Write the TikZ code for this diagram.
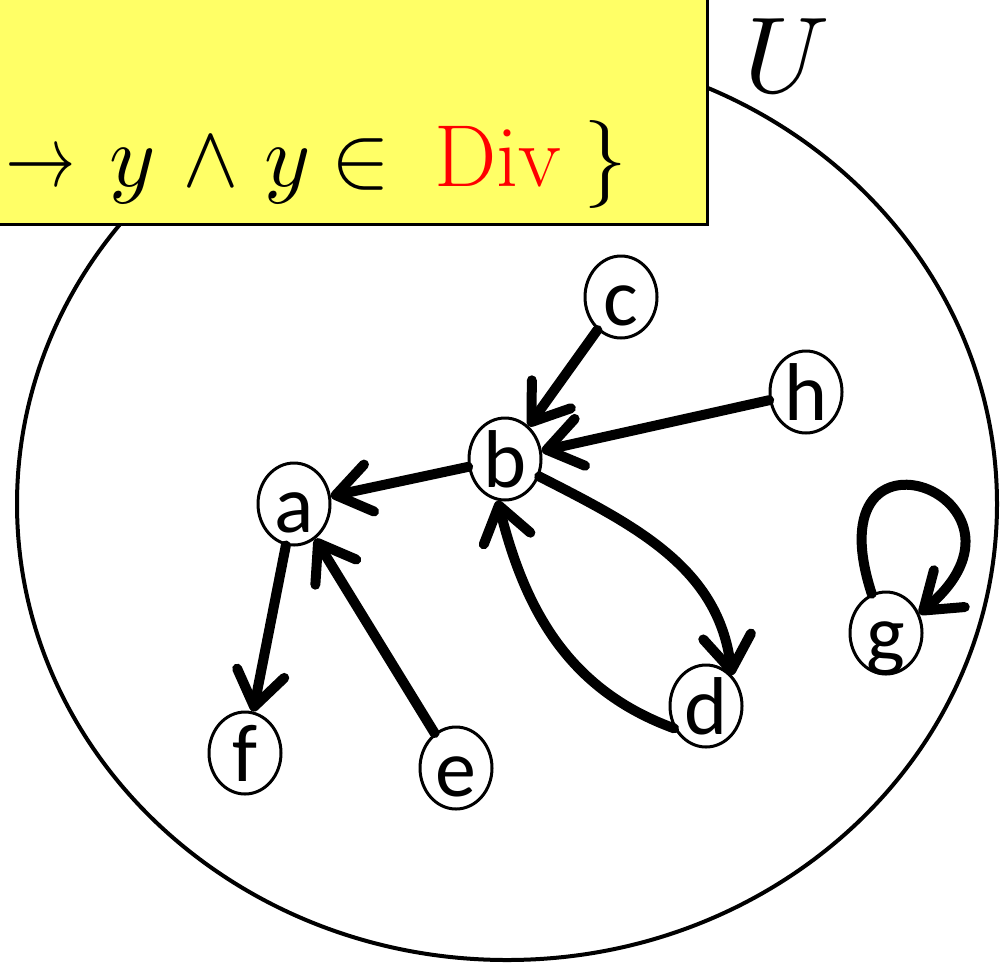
\documentclass[tikz,border=0pt]{standalone}
\usepackage{fontspec}
\usepackage{unicode-math}
\newfontfamily\carlito{Carlito}
\usetikzlibrary{shapes.geometric,arrows.meta}
\definecolor{boxyellow}{HTML}{FFFF66}
\begin{document}
\begin{tikzpicture}[x=0.5pt,y=0.5pt,
  vtx/.style={draw, ellipse, line width=1.5pt, minimum width=36pt, minimum height=41pt,
    inner sep=0pt, fill=white, font=\carlito\fontsize{41}{41}\selectfont,
    text height=28pt, text depth=0pt},
  edge/.style={line width=5pt, line cap=round,
    -{Straight Barb[length=17pt,width=24pt,round]}},
  setbox/.style={draw, line width=1.5pt, fill=boxyellow}]
\useasboundingbox (0,0) rectangle (1005,-964);
\clip (0,0) rectangle (1005,-964);
% universe
\draw[line width=2pt] (507,-504) ellipse [x radius=490, y radius=456];
\node[inner sep=0pt, anchor=base] (U) at (787,-92) {\fontsize{54}{58}\selectfont $U$};
% set definition box
\draw[setbox] (-20,20) rectangle (707,-224);
\node[anchor=base west, inner sep=0pt] (def) at (5,-186)
  {\fontsize{44}{48}\selectfont\scalebox{0.8}[1]{$\rightarrow$}\hspace{17pt}$y$\hspace{13pt}$\wedge$\hspace{12pt}$y$\hspace{11pt}$\in$\hspace{22pt}\textcolor{red}{Div}\hspace{11pt}$\}$};
% vertices
\node[vtx] (c) at (621,-297) {c};
\node[vtx] (h) at (806,-392) {h};
\node[vtx] (b) at (505,-459) {b};
\node[vtx] (a) at (294,-504) {a};
\node[vtx] (f) at (245,-753) {f};
\node[vtx] (e) at (456,-768) {e};
\node[vtx] (d) at (706,-706) {d};
\node[vtx] (g) at (886,-633) {g};
% edges
\draw[edge] (c) -- (b);
\draw[edge] (h) -- (b);
\draw[edge] (b) -- (a);
\draw[edge] (a) -- (f);
\draw[edge] (e) -- (a);
\draw[edge] (b) to[out=-27,in=97] (d.50);
\draw[edge] (d.215) to[out=160,in=-76] (b.-100);
\draw[edge] (g.110) .. controls +(108:200) and +(40:180) .. (g.30);
\end{tikzpicture}
\end{document}
